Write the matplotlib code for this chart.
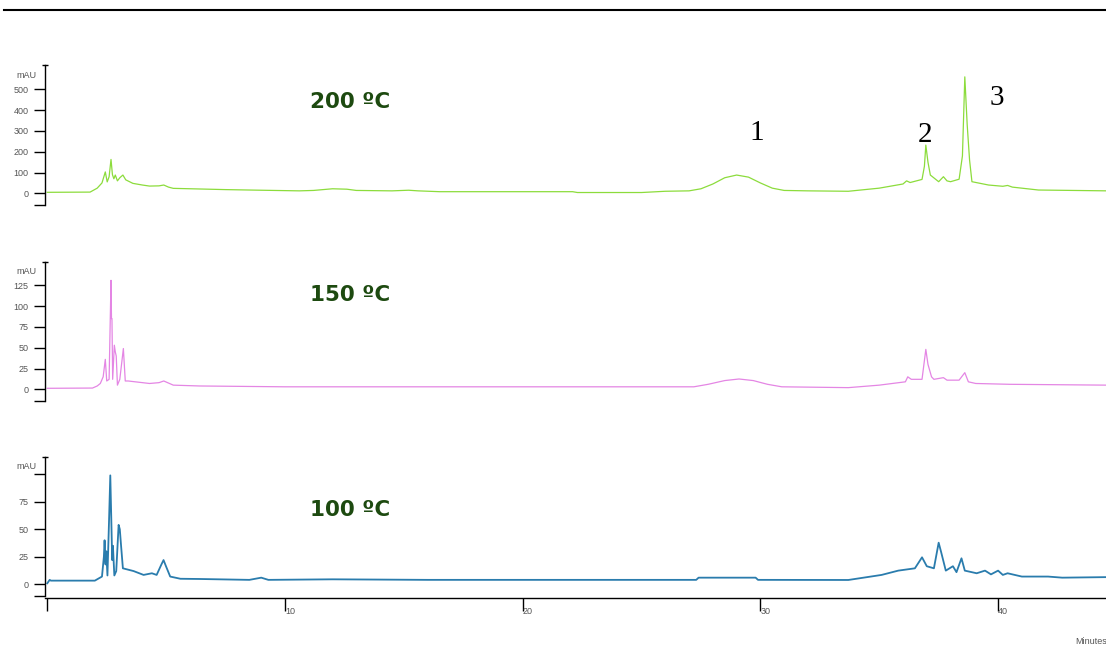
import matplotlib
matplotlib.use("Agg")
import matplotlib.pyplot as plt
from matplotlib.lines import Line2D

# ---------------- data ----------------
t200 = [0.0, 1.8, 2.1, 2.3, 2.44, 2.52, 2.6, 2.68, 2.74, 2.8, 2.86, 2.95, 3.05, 3.18, 3.3,
        3.6, 4.0, 4.3, 4.7, 4.9, 5.1, 5.3, 6.4, 7.5, 9.0, 10.6, 11.2, 11.5, 12.0, 12.6, 13.0,
        14.5, 15.2, 15.6, 16.5, 22.1, 22.3, 25.0, 26.0, 27.0, 27.5, 28.0, 28.5, 29.0, 29.5,
        30.0, 30.5, 31.0, 32.0, 33.7, 35.0, 36.0, 36.15, 36.3, 36.8, 36.9, 36.96, 37.05,
        37.15, 37.5, 37.7, 37.85, 38.0, 38.36, 38.5, 38.6, 38.7, 38.8, 38.9, 39.6, 40.2,
        40.4, 40.6, 41.7, 44.6]
v200 = [5, 6, 25, 50, 103, 55, 80, 163, 90, 70, 88, 60, 75, 88, 65,
        48, 40, 35, 36, 40, 30, 24, 21, 18, 15, 12, 14, 17, 22, 20, 14,
        12, 15, 12, 8, 8, 4, 4, 10, 12, 22, 45, 75, 88, 78,
        50, 25, 14, 12, 10, 25, 45, 60, 52, 67, 130, 232, 150,
        88, 56, 80, 60, 56, 68, 180, 560, 330, 160, 56, 40, 34,
        38, 30, 16, 12]

t150 = [0.0, 1.9, 2.1, 2.23, 2.35, 2.44, 2.5, 2.6, 2.68, 2.7, 2.72, 2.75, 2.82, 2.86, 2.9,
        2.95, 3.05, 3.2, 3.28, 3.4, 4.3, 4.7, 4.9, 5.3, 6.4, 10.0, 20.0, 27.2, 27.8, 28.5,
        29.1, 29.7, 30.3, 30.9, 33.7, 35.0, 36.1, 36.2, 36.35, 36.8, 36.96, 37.05, 37.2,
        37.3, 37.7, 37.85, 38.36, 38.6, 38.75, 39.06, 40.5, 44.6]
v150 = [1.2, 1.5, 4, 7, 15, 36, 10, 12, 131, 85, 85, 12, 53, 45, 40,
        5, 12, 49, 10, 10, 7, 8, 10, 5, 4, 3, 3, 3, 6, 10.5,
        12.4, 10.5, 6, 3, 2, 5, 9, 15, 12, 12, 48, 30, 15,
        12, 14, 11, 11, 20, 9, 7, 6, 5]

t100 = [0.0, 0.1, 0.15, 2.0, 2.3, 2.38, 2.41, 2.45, 2.48, 2.53, 2.6, 2.65, 2.69, 2.73, 2.76,
        2.82, 2.9, 3.0, 3.05, 3.1, 3.18, 3.63, 4.05, 4.4, 4.6, 4.8, 4.89, 5.0, 5.17, 5.6,
        6.4, 8.5, 9.0, 9.3, 12.0, 16.0, 22.0, 27.3, 27.4, 29.8, 29.9, 33.7, 35.1, 35.8,
        36.5, 36.8, 37.0, 37.3, 37.5, 37.6, 37.8, 38.1, 38.25, 38.46, 38.6, 39.1, 39.45,
        39.7, 40.0, 40.2, 40.4, 41.0, 42.1, 42.7, 44.6]
v100 = [0.9, 4, 3.3, 3.3, 7, 25, 40, 18, 30, 8, 60, 99, 61, 22, 35,
        8, 12, 54, 50, 36, 14.5, 12, 8.5, 10, 8.5, 18, 22, 16, 7, 5,
        4.8, 4, 6, 4, 4.5, 4, 4, 4, 6, 6, 4, 3.9, 8.5, 12.4,
        14.5, 24.5, 16.4, 14.5, 37.8, 29.6, 12.4, 16.4, 11, 23.6, 12.4, 10, 12.4,
        9, 12.4, 8.5, 10, 7, 7, 6, 6.5]

ticks200 = [0, 100, 200, 300, 400, 500]
ticks150 = [0, 25, 50, 75, 100, 125]
ticks100 = [0, 25, 50, 75]
x_ticks = [0, 10, 20, 30, 40]
x_labels = ["", "10", "20", "30", "40"]
temps = ["200 ºC", "150 ºC", "100 ºC"]
peak_labels = ["1", "2", "3"]
peak_pos = [(29.9, 0.0), (37.0, 0.0), (40.0, 0.0)]

# ---------------- layout ----------------
W, H = 1106, 646
fig = plt.figure(figsize=(W / 100, H / 100), dpi=100)

def fx(px):
    return px / W

def fy(py):
    return 1 - py / H

x0 = -0.097
x1 = 44.54
left = fx(45)
width = 1 - left

def panel(top_px, bot_px, ylo, yhi, t, v, color, ticks, extra_unlabeled, lw):
    ax = fig.add_axes([left, fy(bot_px), width, (bot_px - top_px) / H])
    ax.patch.set_alpha(0)
    ax.set_xlim(x0, x1)
    ax.set_ylim(ylo, yhi)
    for s in ["top", "right", "bottom"]:
        ax.spines[s].set_visible(False)
    ax.spines["left"].set_linewidth(1.0)
    ax.spines["left"].set_color("black")
    ax.set_xticks([])
    ax.plot(t, v, color=color, lw=lw, clip_on=False, solid_joinstyle="round")
    yt = [ylo * 0.999] + ticks + extra_unlabeled
    yl = [""] + [str(k) for k in ticks] + ["" for _ in extra_unlabeled]
    ax.set_yticks(yt)
    ax.set_yticklabels(yl)
    ax.tick_params(axis="y", direction="out", length=8, width=1.0, pad=4,
                   labelsize=6.5, labelcolor="#555555", color="black")
    ax.set_yticks([yhi * 0.999], minor=True)
    ax.tick_params(axis="y", which="minor", direction="inout", length=4, width=1.0)
    for lab in ax.get_yticklabels():
        lab.set_fontfamily("Liberation Sans")
    # mAU label
    fig.text(fx(37), fy(top_px + 10), "mAU", ha="right", va="center",
             fontsize=6.5, color="#555555", family="Liberation Sans")
    return ax

ax1 = panel(65, 205, -56, 617, t200, v200, "#8cdc3c", ticks200, [], 0.9)
ax2 = panel(261.7, 400.7, -13.7, 153.4, t150, v150, "#e486e4", ticks150, [], 0.9)
ax3 = panel(456.7, 595.7, -10.4, 116, t100, v100, "#2a7cad", ticks100, [100], 1.3)

# x axis
axx = fig.add_axes([left, fy(598), width, 0.001])
axx.patch.set_alpha(0)
axx.set_xlim(x0, x1)
axx.set_yticks([])
for s in ["top", "right", "left"]:
    axx.spines[s].set_visible(False)
axx.spines["bottom"].set_linewidth(1.0)
axx.set_xticks(x_ticks)
axx.set_xticklabels(x_labels)
axx.tick_params(axis="x", direction="out", length=9, width=1.0, pad=-2.5,
                labelsize=6.5, labelcolor="#555555")
for lab in axx.get_xticklabels():
    lab.set_ha("left")
    lab.set_fontfamily("Liberation Sans")
fig.text(fx(1075), fy(642), "Minutes", ha="left", va="center", fontsize=6.5,
         color="#555555", family="Liberation Sans")

# top rule
fig.add_artist(Line2D([fx(4), 1.0], [fy(10), fy(10)], color="black", lw=1.5))

# temperature labels
for txt, ypx in zip(temps, [102, 295, 510]):
    fig.text(fx(310), fy(ypx), txt, ha="left", va="center", fontsize=15.5,
             fontweight="bold", color="#1d4a10", family="DejaVu Sans")

# peak numbers
for lab, (xp, yp) in zip(peak_labels, [(757, 133), (925, 135), (997, 98)]):
    fig.text(fx(xp), fy(yp), lab, ha="center", va="center", fontsize=21,
             color="black", family="Liberation Serif")

fig.savefig("out.png", dpi=100)
